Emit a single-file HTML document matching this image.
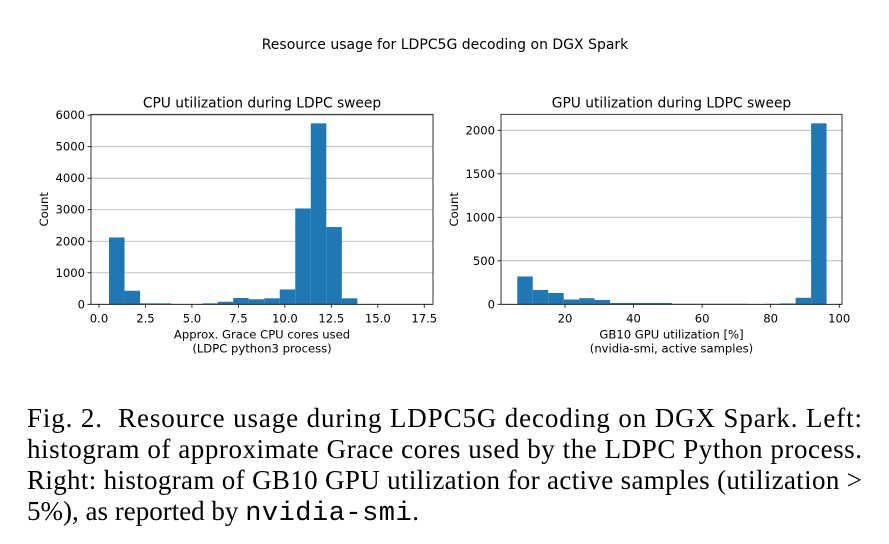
<!DOCTYPE html>
<html><head><meta charset="utf-8"><style>
body{margin:0;background:#fff}
svg{display:block}
</style></head><body>
<svg id="fig" width="889" height="544" viewBox="0 0 889 544" xmlns="http://www.w3.org/2000/svg">
<rect width="889" height="544" fill="#fff"/>
<text x="445" y="49" text-anchor="middle" font-family="DejaVu Sans, sans-serif" font-size="14" fill="#000">Resource usage for LDPC5G decoding on DGX Spark</text>
<g id="left"></g>
<g id="right"></g>
<g font-family="Liberation Serif, serif" font-size="27" fill="#000">
<text x="27" y="427" textLength="835" lengthAdjust="spacing">Fig. 2.&#160;&#160;Resource usage during LDPC5G decoding on DGX Spark. Left:</text>
<text x="27" y="458" textLength="835" lengthAdjust="spacing">histogram of approximate Grace cores used by the LDPC Python process.</text>
<text x="27" y="489" textLength="835" lengthAdjust="spacing">Right: histogram of GB10 GPU utilization for active samples (utilization &gt;</text>
<text x="27" y="520">5%), as reported by <tspan font-family="Liberation Mono, monospace" font-size="27" letter-spacing="0.5">nvidia-smi</tspan>.</text>
</g>
</svg>
<script>
// CPU histogram data
const cpuBinStart = 0.54;
const cpuBinWidth = 0.835;
const cpuCounts = [2120, 430, 30, 30, 10, 10, 30, 80, 200, 160, 190, 470, 3040, 5740, 2450, 190, 10, 5, 5, 0];
const cpuXTicks = [0, 2.5, 5, 7.5, 10, 12.5, 15, 17.5];
const cpuXTickLabels = ["0.0","2.5","5.0","7.5","10.0","12.5","15.0","17.5"];
const cpuYTicks = [0, 1000, 2000, 3000, 4000, 5000, 6000];
// GPU histogram data
const gpuBinStart = 6.1;
const gpuBinWidth = 4.51;
const gpuCounts = [320, 165, 130, 55, 70, 50, 15, 15, 15, 15, 5, 5, 5, 5, 5, 3, 5, 10, 75, 2080];
const gpuXTicks = [20, 40, 60, 80, 100];
const gpuXTickLabels = ["20","40","60","80","100"];
const gpuYTicks = [0, 500, 1000, 1500, 2000];

const NS = "http://www.w3.org/2000/svg";
function mk(tag, attrs, parent){const e=document.createElementNS(NS,tag);for(const k in attrs)e.setAttribute(k,attrs[k]);parent.appendChild(e);return e;}

function drawHist(g, o){
  const L=o.L,R=o.R,T=o.T,B=o.B;
  const xs=v=>L+(v-o.xmin)/(o.xmax-o.xmin)*(R-L);
  const ymax=Math.max(...o.counts)*1.05;
  const ys=v=>B-v/ymax*(B-T);
  o.yTicks.forEach(t=>{
    const l=mk('line',{x1:L,x2:R,y1:ys(t),y2:ys(t),stroke:'#b0b0b0','stroke-width':0.8},g);
    
    
  });
  o.counts.forEach((c,i)=>{
    const x0=xs(o.binStart+i*o.binWidth), x1=xs(o.binStart+(i+1)*o.binWidth);
    const r=mk('rect',{x:x0,y:ys(c),width:x1-x0,height:B-ys(c),fill:'#1f77b4'},g);
    
    
  });
  const f=mk('rect',{x:L,y:T,width:R-L,height:B-T,fill:'none',stroke:'#000','stroke-width':0.8},g);
  
  
  o.xTicks.forEach((t,i)=>{
    mk('line',{x1:xs(t),x2:xs(t),y1:B,y2:B+3.5,stroke:'#000','stroke-width':0.8},g);
    const tx=mk('text',{x:xs(t),y:B+18,'text-anchor':'middle','font-family':'DejaVu Sans, sans-serif','font-size':11.6},g);
    tx.textContent=o.xLabels[i];
    
    
  });
  o.yTicks.forEach(t=>{
    mk('line',{x1:L-3.5,x2:L,y1:ys(t),y2:ys(t),stroke:'#000','stroke-width':0.8},g);
    const tx=mk('text',{x:L-6,y:ys(t)+4,'text-anchor':'end','font-family':'DejaVu Sans, sans-serif','font-size':11.6},g);
    tx.textContent=String(t);
    
    
  });
  const ti=mk('text',{x:(L+R)/2,y:T-7,'text-anchor':'middle','font-family':'DejaVu Sans, sans-serif','font-size':13.8},g);
  ti.textContent=o.title;
  
  
  o.xTitle.forEach((s,i)=>{
    const t=mk('text',{x:(L+R)/2,y:B+34+i*14,'text-anchor':'middle','font-family':'DejaVu Sans, sans-serif','font-size':11.6},g);
    t.textContent=s;
    
    
  });
  const yt=mk('text',{x:0,y:0,'text-anchor':'middle','font-family':'DejaVu Sans, sans-serif','font-size':11.6,transform:`translate(${o.yTitleX},${(T+B)/2}) rotate(-90)`},g);
  yt.textContent='Count';
  
  
}
drawHist(document.getElementById('left'),{L:91,R:433,T:114.3,B:304.3,xmin:-0.43,xmax:17.97,counts:cpuCounts,binStart:cpuBinStart,binWidth:cpuBinWidth,xTicks:cpuXTicks,xLabels:cpuXTickLabels,yTicks:cpuYTicks,title:'CPU utilization during LDPC sweep',xTitle:['Approx. Grace CPU cores used','(LDPC python3 process)'],yTitleX:48});
drawHist(document.getElementById('right'),{L:501,R:842,T:114.3,B:304.3,xmin:1.35,xmax:100.8,counts:gpuCounts,binStart:gpuBinStart,binWidth:gpuBinWidth,xTicks:gpuXTicks,xLabels:gpuXTickLabels,yTicks:gpuYTicks,title:'GPU utilization during LDPC sweep',xTitle:['GB10 GPU utilization [%]','(nvidia-smi, active samples)'],yTitleX:458});
</script>
</body></html>
